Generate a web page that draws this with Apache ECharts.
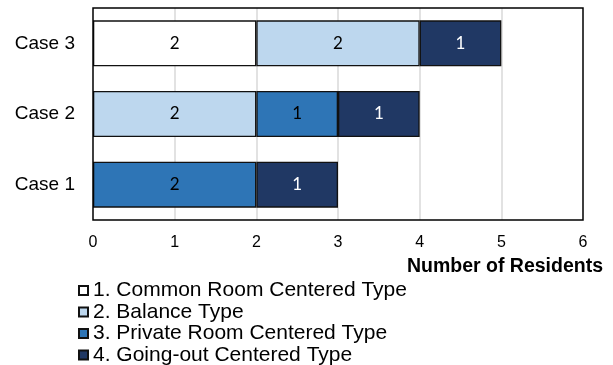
<!DOCTYPE html>
<html>
<head>
	<meta charset="UTF-8">
	<title>Number of Residents</title>
	<script src="https://cdn.jsdelivr.net/npm/echarts@6/dist/echarts.min.js"></script>
	<style>
		html, body { margin: 0; padding: 0; background: #fff; }
		#main { width: 613px; height: 365px; }
	</style>
</head>
<body>
	<div id="main"></div>
	<script type="text/javascript">
		// categories (bottom to top)
		var cases = ['Case 1', 'Case 2', 'Case 3'];
		var typeNames = ['1. Common Room Centered Type', '2. Balance Type', '3. Private Room Centered Type', '4. Going-out Centered Type'];
		// residents per type, per case
		var commonRoom = [null, null, 2];
		var balance = [null, 2, 2];
		var privateRoom = [2, 1, null];
		var goingOut = [1, 1, 1];
		var xTicks = [0, 1, 2, 3, 4, 5, 6];

		var colors = ['#ffffff', '#bdd7ee', '#2e75b6', '#203864'];
		var labelColors = ['#000', '#000', '#000', '#fff'];
		var values = [commonRoom, balance, privateRoom, goingOut];
		var font = '"Liberation Sans", Arial, sans-serif';

		var series = [];
		for (var i = 0; i < values.length; i++) {
			series.push({
				name: typeNames[i],
				type: 'bar',
				stack: 'total',
				barCategoryGap: '35%',
				data: values[i],
				itemStyle: {
					color: colors[i],
					borderColor: '#111',
					borderWidth: 1.3
				},
				label: {
					show: true,
					position: 'inside',
					color: labelColors[i],
					fontFamily: 'Lato, "Open Sans", sans-serif',
					fontSize: 17
				}
			});
		}

		var chart = echarts.init(document.getElementById('main'));
		chart.setOption({
			animation: false,
			textStyle: { fontFamily: font },
			title: {
				text: 'Number of Residents',
				right: 10,
				top: 257,
				padding: 0,
				textStyle: { fontFamily: font, fontSize: 19.5, fontWeight: 'bold', color: '#000' }
			},
			legend: {
				orient: 'vertical',
				left: 78,
				top: 280,
				height: 120,
				padding: 0,
				icon: 'rect',
				itemWidth: 9,
				itemHeight: 9,
				itemGap: 0.5,
				textStyle: { fontFamily: font, fontSize: 21, color: '#000' },
				data: typeNames
			},
			grid: {
				left: 93,
				top: 8,
				width: 490,
				height: 212,
				show: true,
				borderColor: '#000',
				borderWidth: 1.5,
				z: 3,
				containLabel: false
			},
			xAxis: {
				type: 'value',
				min: xTicks[0],
				max: xTicks[xTicks.length - 1],
				interval: 1,
				axisLine: { show: false },
				axisTick: { show: false },
				axisLabel: { color: '#000', fontSize: 16, margin: 15, fontFamily: font },
				splitLine: { show: true, showMinLine: false, showMaxLine: false, lineStyle: { color: '#d9d9d9', width: 1.5 } }
			},
			yAxis: {
				type: 'category',
				data: cases,
				axisLine: { show: false },
				axisTick: { show: false },
				axisLabel: { color: '#000', fontSize: 19, margin: 18, fontFamily: font },
				splitLine: { show: false }
			},
			series: series
		});
	</script>
</body>
</html>
